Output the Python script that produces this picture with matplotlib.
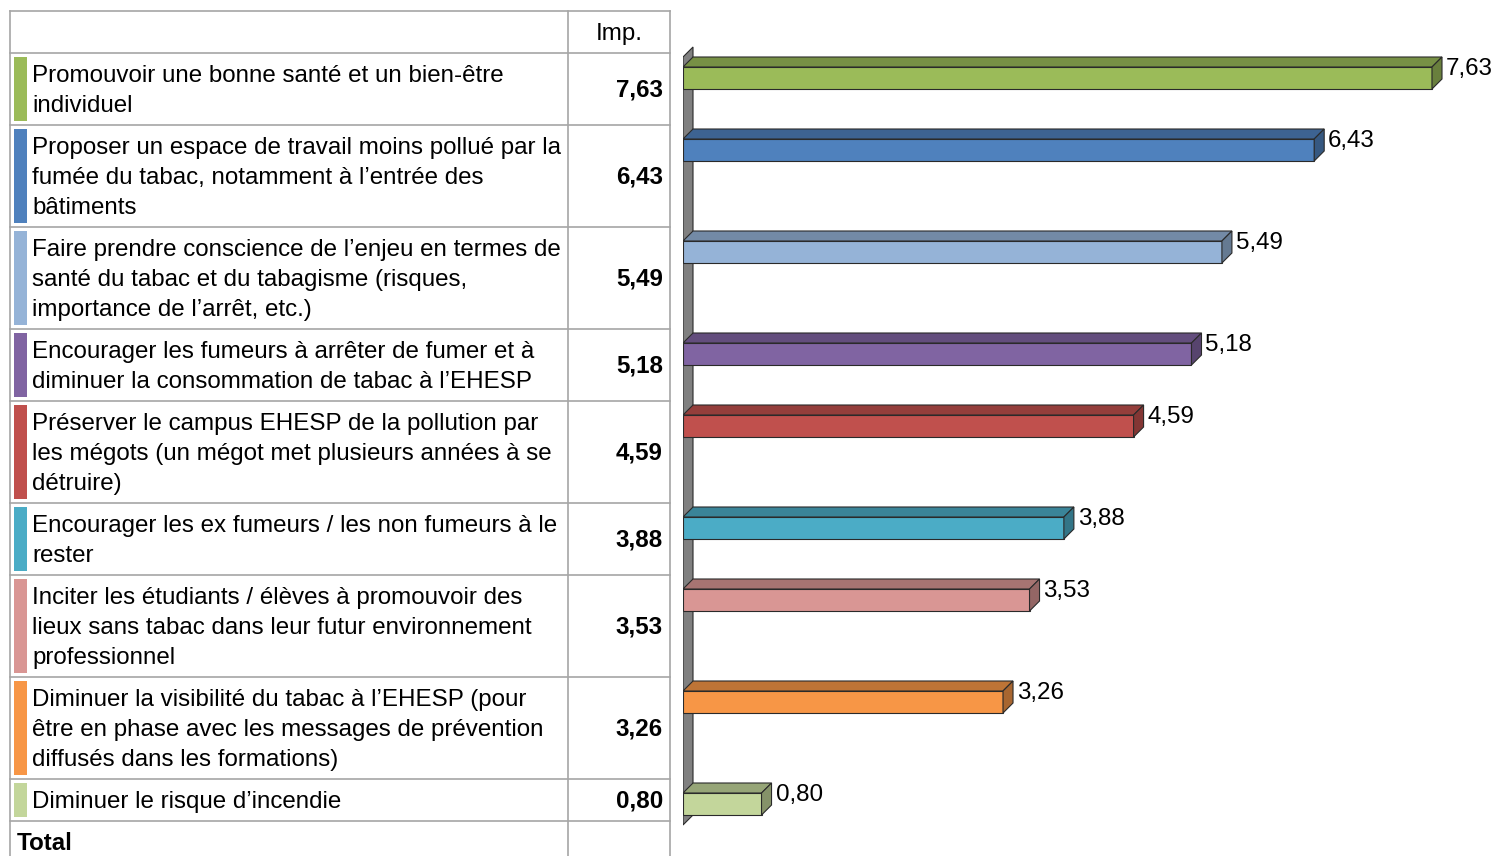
import numpy as np
import matplotlib
matplotlib.use("Agg")
import matplotlib.pyplot as plt
from matplotlib.patches import Polygon, Rectangle
from matplotlib.colors import to_rgb

plt.rcParams['font.family'] = ['Liberation Sans', 'DejaVu Sans']

# data
labels = [
    "Promouvoir une bonne santé et un bien-être\nindividuel",
    "Proposer un espace de travail moins pollué par la\nfumée du tabac, notamment à l’entrée des\nbâtiments",
    "Faire prendre conscience de l’enjeu en termes de\nsanté du tabac et du tabagisme (risques,\nimportance de l’arrêt, etc.)",
    "Encourager les fumeurs à arrêter de fumer et à\ndiminuer la consommation de tabac à l’EHESP",
    "Préserver le campus EHESP de la pollution par\nles mégots (un mégot met plusieurs années à se\ndétruire)",
    "Encourager les ex fumeurs / les non fumeurs à le\nrester",
    "Inciter les étudiants / élèves à promouvoir des\nlieux sans tabac dans leur futur environnement\nprofessionnel",
    "Diminuer la visibilité du tabac à l’EHESP (pour\nêtre en phase avec les messages de prévention\ndiffusés dans les formations)",
    "Diminuer le risque d’incendie",
]
values = [7.63, 6.43, 5.49, 5.18, 4.59, 3.88, 3.53, 3.26, 0.80]
colors = ["#9BBB59", "#4F81BD", "#95B3D7", "#8064A2", "#C0504D",
          "#4BACC6", "#D99694", "#F79646", "#C3D69B"]

W, H = 1496, 856
fig = plt.figure(figsize=(W / 100, H / 100), dpi=100)

# table axes in pixel units
tab = fig.add_axes([0, 0, 1, 1])
tab.set_xlim(0, W)
tab.set_ylim(H, 0)
tab.axis('off')

def fmt(v):
    return f"{v:.2f}".replace('.', ',')

x_left, x_div, x_right = 10, 568, 670
y_top, y_head = 11, 53
line_h = 30
fs = 17.4
grid = "#a6a6a6"

# row boundaries from number of text lines
row_tops = []
y = y_head
for lab in labels:
    row_tops.append(y)
    n = lab.count("\n") + 1
    y += 12 + line_h * n
y_total = y

for yy in [y_top, y_head] + row_tops[1:] + [y_total]:
    tab.plot([x_left, x_right], [yy, yy], color=grid, lw=1.2)
for xx in [x_left, x_div, x_right]:
    tab.plot([xx, xx], [y_top, H], color=grid, lw=1.2)

tab.text((x_div + x_right) / 2, 34, "Imp.", ha='center', va='center', fontsize=fs)

for i, lab in enumerate(labels):
    top = row_tops[i]
    n = lab.count("\n") + 1
    bot = top + 12 + line_h * n
    tab.add_patch(Rectangle((14, top + 4), 13, bot - top - 8, color=colors[i], lw=0))
    for k, line in enumerate(lab.split("\n")):
        tab.text(32, top + 23 + k * line_h, line, ha='left', va='center', fontsize=fs)
    tab.text(663, (top + bot) / 2 + 1, fmt(values[i]), ha='right', va='center',
             fontsize=fs, fontweight='bold')

tab.text(17, y_total + 23, "Total", ha='left', va='center', fontsize=fs, fontweight='bold')

# bar axes: x in data units, y in pixels
bx0 = 683
ppu = (1432 - bx0) / 7.63
bars = fig.add_axes([bx0 / W, 0, 1 - bx0 / W, 1])
bars.set_xlim(0, (W - bx0) / ppu)
bars.set_ylim(H, 0)
bars.axis('off')

d = 10
dx = d / ppu
bh = 22
centers = [t + 25 for t in row_tops]
edge = "#2a2a2a"

def shade(c, f):
    r, g, b = to_rgb(c)
    return (r * f, g * f, b * f)

# back wall
wt = centers[0] - bh / 2 - d
wb = centers[-1] + bh / 2 + d
bars.add_patch(Polygon([(0, wt), (dx, wt - d), (dx, wb - d), (0, wb)],
                       closed=True, facecolor="#808080", edgecolor=edge, lw=0.8))

for c, v, col in zip(centers, values, colors):
    t, b = c - bh / 2, c + bh / 2
    bars.barh(c, v, height=bh, left=0, color=col, edgecolor=edge, lw=0.8)
    bars.add_patch(Polygon([(0, t), (dx, t - d), (v + dx, t - d), (v, t)],
                           closed=True, facecolor=shade(col, 0.77), edgecolor=edge, lw=0.8))
    bars.add_patch(Polygon([(v, t), (v + dx, t - d), (v + dx, b - d), (v, b)],
                           closed=True, facecolor=shade(col, 0.68), edgecolor=edge, lw=0.8))
    bars.text(v + dx + 4 / ppu, c - 9, fmt(v), ha='left', va='center', fontsize=fs)

fig.savefig("out.png", dpi=100)
